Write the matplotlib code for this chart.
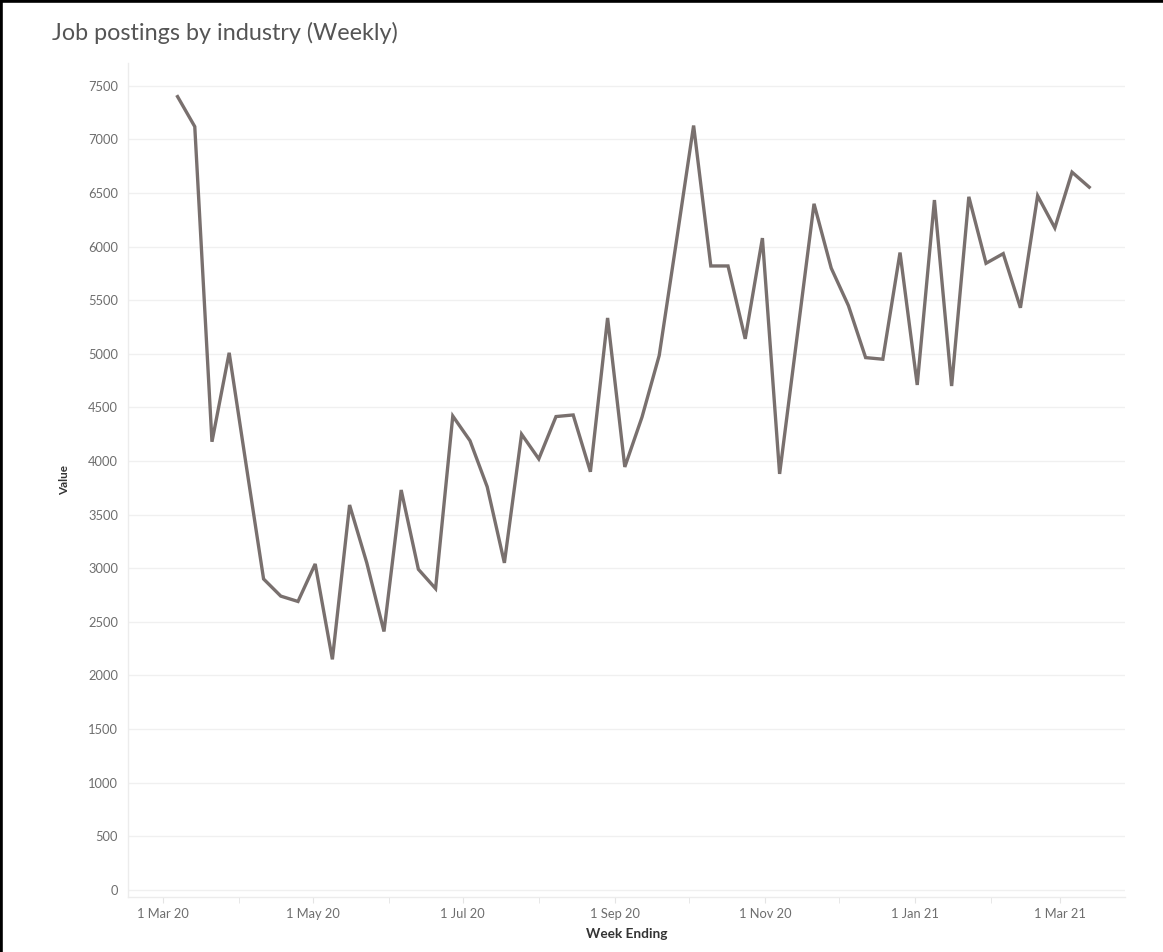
import matplotlib
matplotlib.use("Agg")
import matplotlib.pyplot as plt
import matplotlib.dates as mdates
from matplotlib.lines import Line2D
import pandas as pd

plt.rcParams['font.family'] = ['Lato', 'DejaVu Sans']

# weekly job postings, week ending Saturday
first_week = "2020-03-07"
postings = [7400, 7120, 4180, 5010, 3950, 2900, 2740, 2690, 3040, 2150,
            3590, 3050, 2410, 3730, 2990, 2810, 4420, 4190, 3760, 3050,
            4250, 4020, 4415, 4430, 3900, 5335, 3945, 4410, 4985, 6050,
            7130, 5820, 5820, 5140, 6080, 3880, 5140, 6400, 5800, 5450,
            4965, 4950, 5945, 4710, 6435, 4700, 6465, 5845, 5935, 5430,
            6475, 6175, 6695, 6555]
weeks = pd.date_range(first_week, periods=len(postings), freq="7D")

y_ticks = list(range(0, 7501, 500))
month_ticks = pd.to_datetime(["2020-03-01", "2020-05-01", "2020-07-01", "2020-09-01",
                              "2020-11-01", "2021-01-01", "2021-03-01"])

fig = plt.figure(figsize=(11.63, 9.52), dpi=100)
ax = fig.add_axes([0.110, 0.058, 0.857, 0.876])

ax.plot(weeks, postings, color="#79706e", linewidth=2.4, solid_joinstyle="miter")

start = pd.Timestamp("2020-03-01")
ax.set_xlim(start - pd.Timedelta(days=14.2), start + pd.Timedelta(days=391.4))
ax.set_ylim(-65, 7715)

ax.set_yticks(y_ticks)
ax.set_yticklabels([str(v) for v in y_ticks])
ax.set_xticks(month_ticks)
ax.xaxis.set_major_formatter(mdates.DateFormatter("1 %b %y"))
ax.xaxis.set_minor_locator(mdates.MonthLocator())

ax.grid(axis="y", color="#f0f0f0", linewidth=1.0)
ax.set_axisbelow(True)
for side in ["top", "right"]:
    ax.spines[side].set_visible(False)
ax.spines["left"].set_color("#ececec")
ax.spines["bottom"].set_color("#ececec")
ax.spines["left"].set_linewidth(1.0)
ax.spines["bottom"].set_linewidth(1.0)

ax.tick_params(axis="y", length=0, pad=7, labelsize=9.3, labelcolor="#6e6e6e")
ax.tick_params(axis="x", which="major", length=4, color="#e4e4e4", pad=4,
               labelsize=9.3, labelcolor="#6e6e6e")
ax.tick_params(axis="x", which="minor", length=4, color="#e4e4e4")

ax.set_ylabel("Value", fontsize=8.5, fontweight="bold", color="#333333", labelpad=13)
ax.set_xlabel("Week Ending", fontsize=9.8, fontweight="bold", color="#333333", labelpad=6)

fig.text(0.045, 0.965, "Job postings by industry (Weekly)", fontsize=16.8,
         color="#555555", ha="left", va="center")

# frame on top and left edge
fig.add_artist(Line2D([0, 1], [0.999, 0.999], transform=fig.transFigure,
                      color="black", linewidth=2.6))
fig.add_artist(Line2D([0.0012, 0.0012], [0, 1], transform=fig.transFigure,
                      color="black", linewidth=2.6))

fig.savefig("out.png", dpi=100, facecolor="white")
